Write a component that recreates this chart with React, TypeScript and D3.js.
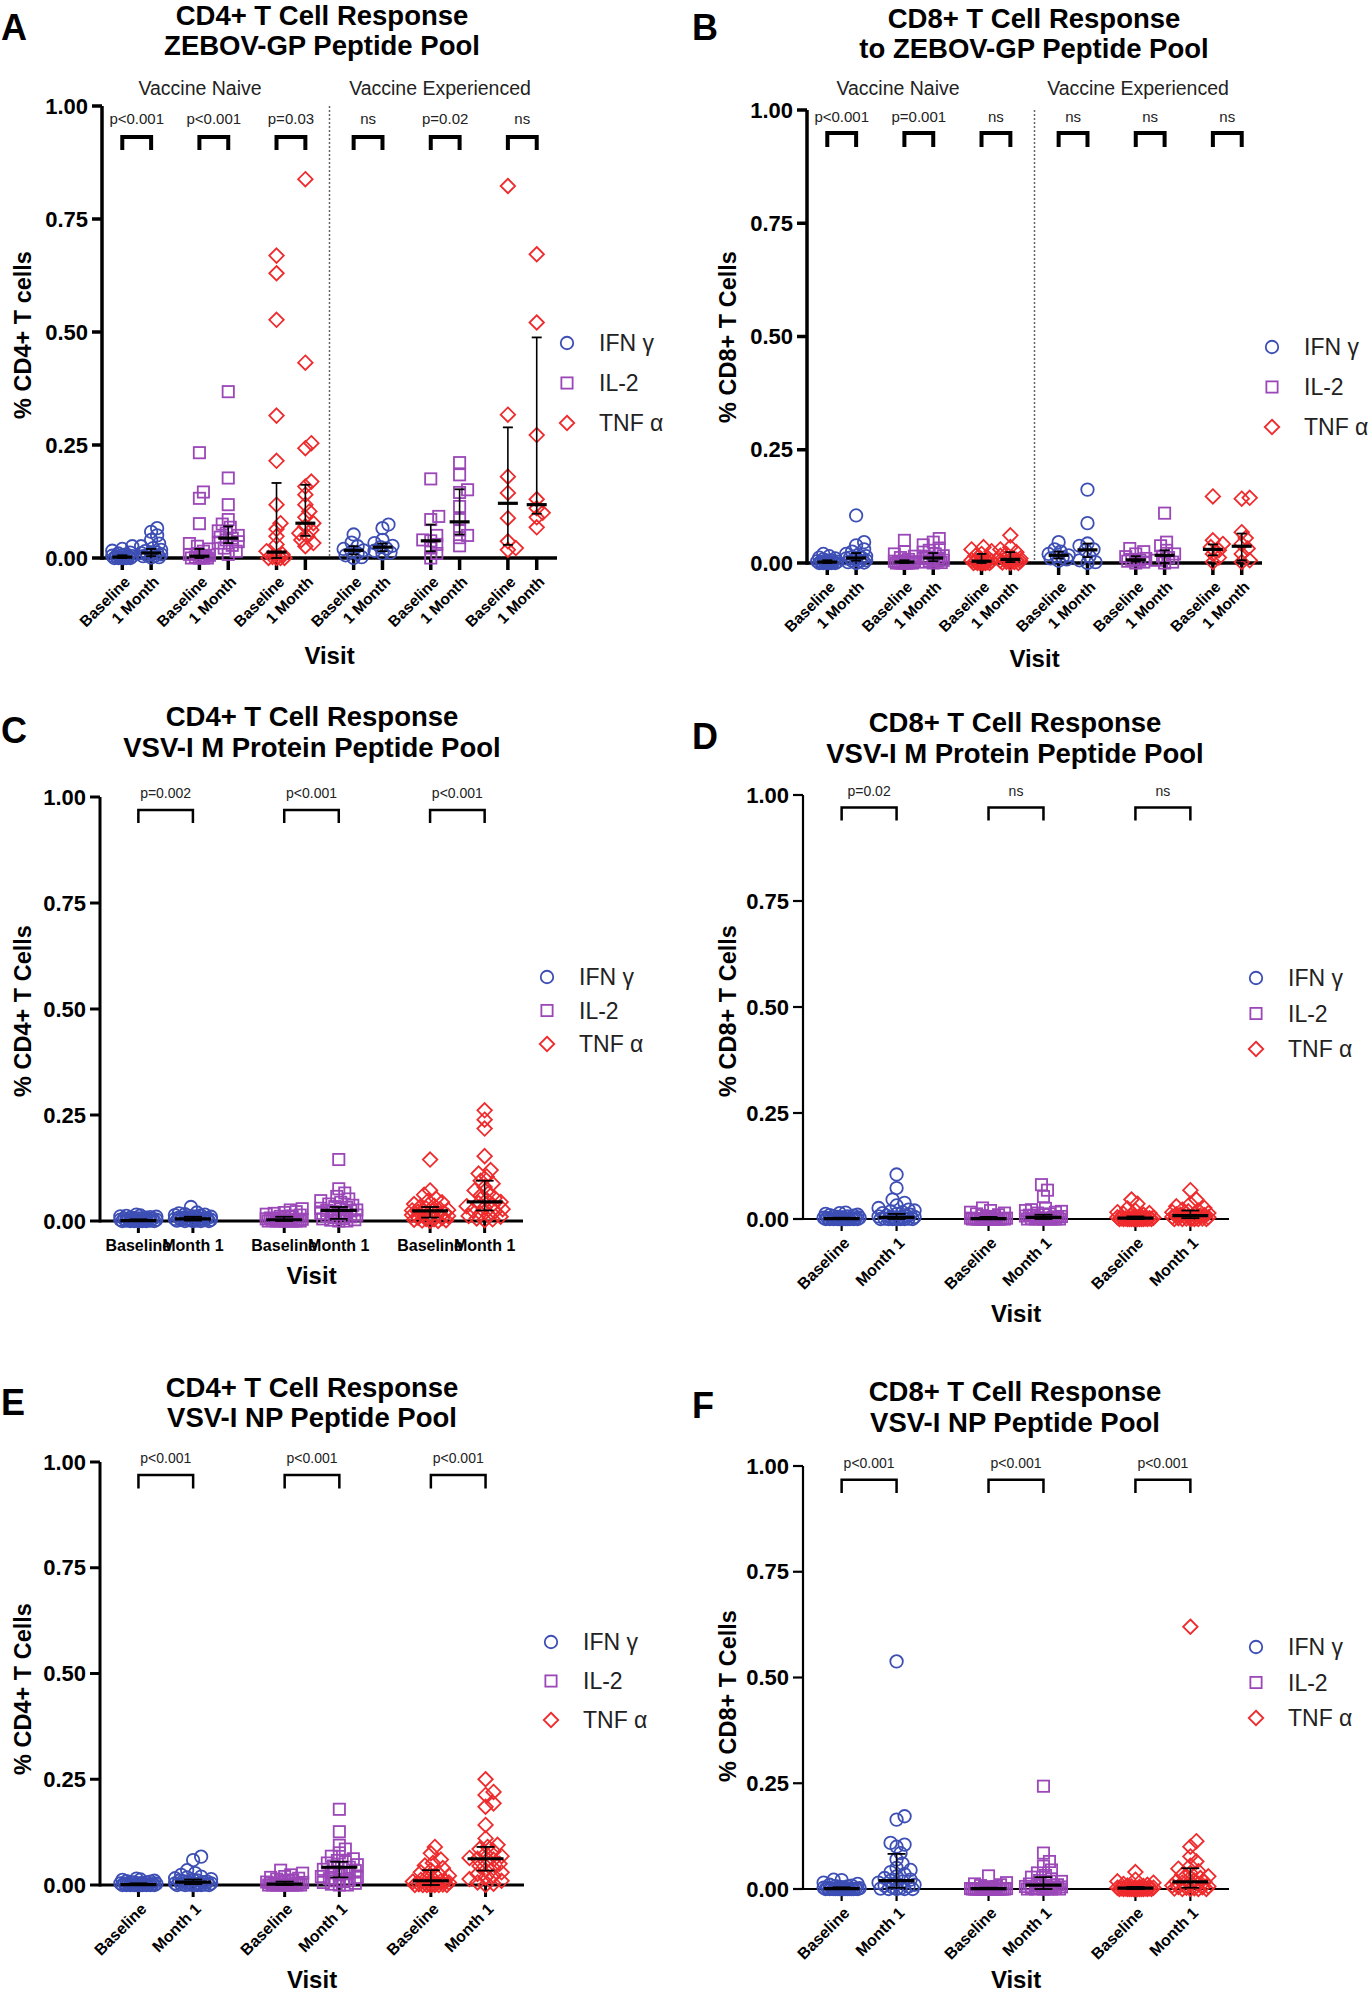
import React from "react";
import * as d3 from "d3";

const FONT = "'Liberation Sans', Arial, Helvetica, sans-serif";
const COLORS = ["#3d4fb5", "#9b47b8", "#ef2b2d"];
const LEGEND = ["IFN \u03b3", "IL-2", "TNF \u03b1"];

// ---- Panel A: CD4+, ZEBOV-GP (naive / experienced) ----
const aIfnNaiveBase = [0.026, 0.02, 0.016, 0.012, 0.01, 0.008, 0.006, 0.005, 0.004, 0.003, 0.002, 0.001, 0, 0, 0, 0, 0, 0];
const aIfnNaiveM1 = [0.066, 0.058, 0.05, 0.04, 0.032, 0.026, 0.022, 0.018, 0.015, 0.012, 0.011, 0.01, 0.008, 0.006, 0.005, 0.004, 0.002, 0.001];
const aIl2NaiveBase = [0.233, 0.146, 0.132, 0.076, 0.032, 0.026, 0.02, 0.015, 0.01, 0.008, 0.006, 0.004, 0.003, 0.002, 0, 0, 0, 0];
const aIl2NaiveM1 = [0.368, 0.177, 0.118, 0.085, 0.075, 0.068, 0.06, 0.055, 0.05, 0.046, 0.044, 0.04, 0.036, 0.033, 0.028, 0.022, 0.015, 0.008];
const aTnfNaiveBase = [0.669, 0.63, 0.527, 0.315, 0.215, 0.118, 0.077, 0.064, 0.048, 0.03, 0.015, 0.008, 0.004, 0.002, 0, 0, 0, 0];
const aTnfNaiveM1 = [0.838, 0.432, 0.254, 0.243, 0.169, 0.158, 0.14, 0.118, 0.103, 0.09, 0.077, 0.07, 0.062, 0.055, 0.048, 0.04, 0.033, 0.026];
const aIfnExpBase = [0.052, 0.034, 0.026, 0.02, 0.017, 0.014, 0.01, 0.006, 0.002, 0];
const aIfnExpM1 = [0.074, 0.066, 0.04, 0.033, 0.027, 0.024, 0.021, 0.016, 0.012, 0.01];
const aIl2ExpBase = [0.175, 0.092, 0.085, 0.05, 0.04, 0.038, 0.03, 0.022, 0.01, 0];
const aIl2ExpM1 = [0.211, 0.184, 0.151, 0.145, 0.114, 0.085, 0.062, 0.05, 0.045, 0.027];
const aTnfExpBase = [0.823, 0.317, 0.18, 0.144, 0.088, 0.037, 0.022, 0.018];
const aTnfExpM1 = [0.672, 0.521, 0.272, 0.13, 0.11, 0.1, 0.09, 0.068];
const aMedian = [0.002, 0.011, 0.004, 0.044, 0.013, 0.077, 0.017, 0.024, 0.038, 0.08, 0.121, 0.118];
const aLower = [0, 0.004, 0, 0.033, 0, 0.049, 0.008, 0.015, 0.015, 0.052, 0.029, 0.098];
const aUpper = [0.006, 0.02, 0.02, 0.07, 0.166, 0.162, 0.026, 0.032, 0.074, 0.152, 0.289, 0.488];
const aPvals = ["p<0.001", "p<0.001", "p=0.03", "ns", "p=0.02", "ns"];

// ---- Panel B: CD8+, ZEBOV-GP ----
const bIfnNaiveBase = [0.02, 0.015, 0.012, 0.01, 0.008, 0.006, 0.005, 0.004, 0.003, 0.002, 0.002, 0.001, 0, 0, 0, 0, 0, 0];
const bIfnNaiveM1 = [0.105, 0.046, 0.039, 0.03, 0.025, 0.02, 0.018, 0.015, 0.012, 0.011, 0.01, 0.008, 0.006, 0.005, 0.004, 0.002, 0.001, 0];
const bIl2NaiveBase = [0.05, 0.025, 0.02, 0.015, 0.012, 0.008, 0.005, 0.004, 0.003, 0.002, 0.001, 0, 0, 0, 0, 0, 0, 0];
const bIl2NaiveM1 = [0.054, 0.046, 0.04, 0.033, 0.028, 0.024, 0.02, 0.016, 0.013, 0.011, 0.01, 0.008, 0.006, 0.005, 0.004, 0.002, 0.001, 0];
const bTnfNaiveBase = [0.035, 0.03, 0.026, 0.02, 0.016, 0.012, 0.008, 0.006, 0.004, 0.003, 0.002, 0.001, 0, 0, 0, 0, 0, 0];
const bTnfNaiveM1 = [0.061, 0.035, 0.03, 0.024, 0.02, 0.016, 0.012, 0.01, 0.008, 0.007, 0.006, 0.005, 0.004, 0.003, 0.002, 0.001, 0, 0];
const bIfnExpBase = [0.046, 0.03, 0.025, 0.02, 0.017, 0.015, 0.012, 0.01, 0.008, 0.005];
const bIfnExpM1 = [0.162, 0.088, 0.043, 0.038, 0.03, 0.028, 0.015, 0.006, 0.002, 0];
const bIl2ExpBase = [0.032, 0.025, 0.02, 0.014, 0.01, 0.008, 0.006, 0.004, 0.002, 0];
const bIl2ExpM1 = [0.11, 0.046, 0.038, 0.028, 0.02, 0.015, 0.012, 0.006, 0.002, 0];
const bTnfExpBase = [0.147, 0.05, 0.042, 0.035, 0.028, 0.02, 0.012, 0.002];
const bTnfExpM1 = [0.144, 0.142, 0.068, 0.055, 0.042, 0.032, 0.02, 0.006, 0.002];
const bMedian = [0.002, 0.011, 0.002, 0.011, 0.004, 0.008, 0.017, 0.029, 0.007, 0.017, 0.03, 0.037];
const bLower = [0, 0.005, 0, 0.004, 0, 0.002, 0.01, 0.013, 0.003, 0, 0.017, 0.006];
const bUpper = [0.006, 0.022, 0.006, 0.022, 0.02, 0.024, 0.025, 0.043, 0.015, 0.028, 0.041, 0.065];
const bPvals = ["p<0.001", "p=0.001", "ns", "ns", "ns", "ns"];

// ---- Panel C: CD4+, VSV-I M protein ----
const cIfnBase = [0.015, 0.013, 0.012, 0.011, 0.01, 0.009, 0.008, 0.008, 0.007, 0.006, 0.006, 0.005, 0.005, 0.004, 0.004, 0.003, 0.003, 0.002, 0.002, 0.002, 0.001, 0.001, 0.001, 0, 0, 0, 0, 0, 0, 0];
const cIfnM1 = [0.033, 0.02, 0.018, 0.016, 0.015, 0.014, 0.013, 0.012, 0.011, 0.01, 0.009, 0.008, 0.008, 0.007, 0.006, 0.006, 0.005, 0.005, 0.004, 0.004, 0.003, 0.003, 0.002, 0.002, 0.001, 0.001, 0, 0, 0, 0];
const cIl2Base = [0.029, 0.026, 0.022, 0.02, 0.018, 0.016, 0.014, 0.012, 0.011, 0.01, 0.008, 0.007, 0.006, 0.005, 0.004, 0.004, 0.003, 0.003, 0.002, 0.002, 0.001, 0.001, 0, 0, 0, 0, 0, 0, 0, 0];
const cIl2M1 = [0.145, 0.076, 0.066, 0.058, 0.052, 0.048, 0.044, 0.04, 0.037, 0.034, 0.032, 0.03, 0.028, 0.026, 0.025, 0.024, 0.022, 0.02, 0.018, 0.016, 0.014, 0.012, 0.01, 0.008, 0.006, 0.005, 0.003, 0.002, 0, 0];
const cTnfBase = [0.145, 0.072, 0.062, 0.053, 0.048, 0.044, 0.04, 0.036, 0.033, 0.03, 0.028, 0.026, 0.025, 0.024, 0.022, 0.02, 0.018, 0.016, 0.014, 0.012, 0.01, 0.008, 0.007, 0.005, 0.004, 0.003, 0.002, 0.001, 0, 0];
const cTnfM1 = [0.261, 0.239, 0.218, 0.153, 0.12, 0.112, 0.105, 0.095, 0.088, 0.08, 0.072, 0.066, 0.06, 0.054, 0.05, 0.045, 0.042, 0.038, 0.035, 0.032, 0.028, 0.025, 0.022, 0.018, 0.015, 0.012, 0.01, 0.006, 0.004, 0.002];
const cMedian = [0.001, 0.005, 0.003, 0.025, 0.024, 0.045];
const cLower = [0, 0.001, 0, 0.005, 0.008, 0.025];
const cUpper = [0.004, 0.01, 0.01, 0.033, 0.033, 0.095];
const cPvals = ["p=0.002", "p<0.001", "p<0.001"];

// ---- Panel D: CD8+, VSV-I M protein ----
const dIfnBase = [0.015, 0.014, 0.012, 0.01, 0.009, 0.008, 0.007, 0.006, 0.005, 0.004, 0.004, 0.003, 0.003, 0.002, 0.002, 0.001, 0.001, 0.001, 0, 0, 0, 0, 0, 0, 0, 0, 0, 0, 0, 0];
const dIfnM1 = [0.105, 0.073, 0.046, 0.038, 0.032, 0.026, 0.022, 0.02, 0.018, 0.016, 0.014, 0.012, 0.01, 0.008, 0.007, 0.006, 0.005, 0.004, 0.003, 0.002, 0.002, 0.001, 0.001, 0, 0, 0, 0, 0, 0, 0];
const dIl2Base = [0.026, 0.02, 0.016, 0.014, 0.012, 0.01, 0.008, 0.006, 0.005, 0.004, 0.003, 0.002, 0.002, 0.001, 0.001, 0, 0, 0, 0, 0, 0, 0, 0, 0, 0, 0, 0, 0, 0, 0];
const dIl2M1 = [0.081, 0.068, 0.053, 0.025, 0.022, 0.02, 0.018, 0.016, 0.014, 0.012, 0.01, 0.009, 0.008, 0.007, 0.006, 0.005, 0.004, 0.003, 0.002, 0.002, 0.001, 0.001, 0, 0, 0, 0, 0, 0, 0, 0];
const dTnfBase = [0.046, 0.036, 0.025, 0.02, 0.016, 0.014, 0.012, 0.01, 0.008, 0.006, 0.005, 0.004, 0.003, 0.002, 0.002, 0.001, 0.001, 0, 0, 0, 0, 0, 0, 0, 0, 0, 0, 0, 0, 0];
const dTnfM1 = [0.068, 0.046, 0.036, 0.03, 0.026, 0.022, 0.02, 0.018, 0.016, 0.014, 0.012, 0.011, 0.01, 0.009, 0.008, 0.007, 0.006, 0.005, 0.004, 0.003, 0.002, 0.002, 0.001, 0.001, 0, 0, 0, 0, 0, 0];
const dMedian = [0.001, 0.004, 0.001, 0.004, 0.002, 0.008];
const dLower = [0, 0, 0, 0, 0, 0.002];
const dUpper = [0.003, 0.012, 0.005, 0.01, 0.006, 0.02];
const dPvals = ["p=0.02", "ns", "ns"];

// ---- Panel E: CD4+, VSV-I NP ----
const eIfnBase = [0.015, 0.013, 0.012, 0.01, 0.009, 0.008, 0.007, 0.006, 0.006, 0.005, 0.004, 0.004, 0.003, 0.003, 0.002, 0.002, 0.001, 0.001, 0.001, 0, 0, 0, 0, 0, 0, 0, 0, 0, 0, 0];
const eIfnM1 = [0.067, 0.059, 0.035, 0.028, 0.024, 0.02, 0.018, 0.016, 0.014, 0.012, 0.011, 0.01, 0.009, 0.008, 0.007, 0.006, 0.005, 0.004, 0.004, 0.003, 0.002, 0.002, 0.001, 0.001, 0, 0, 0, 0, 0, 0];
const eIl2Base = [0.035, 0.028, 0.024, 0.02, 0.018, 0.016, 0.014, 0.012, 0.01, 0.009, 0.008, 0.007, 0.006, 0.005, 0.004, 0.004, 0.003, 0.002, 0.002, 0.001, 0.001, 0, 0, 0, 0, 0, 0, 0, 0, 0];
const eIl2M1 = [0.179, 0.126, 0.094, 0.085, 0.076, 0.068, 0.062, 0.058, 0.055, 0.052, 0.048, 0.045, 0.042, 0.04, 0.037, 0.034, 0.03, 0.027, 0.024, 0.02, 0.018, 0.015, 0.012, 0.01, 0.008, 0.006, 0.004, 0.002, 0, 0];
const eTnfBase = [0.09, 0.075, 0.06, 0.052, 0.046, 0.04, 0.035, 0.03, 0.026, 0.022, 0.018, 0.015, 0.012, 0.01, 0.009, 0.008, 0.006, 0.005, 0.004, 0.003, 0.002, 0.002, 0.001, 0, 0, 0, 0, 0, 0, 0];
const eTnfM1 = [0.25, 0.22, 0.213, 0.193, 0.185, 0.142, 0.11, 0.095, 0.09, 0.085, 0.08, 0.074, 0.068, 0.064, 0.062, 0.06, 0.055, 0.05, 0.045, 0.04, 0.035, 0.03, 0.026, 0.022, 0.018, 0.014, 0.01, 0.006, 0.003, 0];
const eMedian = [0.001, 0.007, 0.002, 0.042, 0.01, 0.062];
const eLower = [0, 0.002, 0, 0.018, 0, 0.034];
const eUpper = [0.004, 0.013, 0.008, 0.055, 0.035, 0.09];
const ePvals = ["p<0.001", "p<0.001", "p<0.001"];

// ---- Panel F: CD8+, VSV-I NP ----
const fIfnBase = [0.022, 0.021, 0.015, 0.012, 0.01, 0.008, 0.007, 0.006, 0.005, 0.004, 0.003, 0.003, 0.002, 0.002, 0.001, 0.001, 0, 0, 0, 0, 0, 0, 0, 0, 0, 0, 0, 0, 0, 0];
const fIfnM1 = [0.538, 0.172, 0.164, 0.109, 0.105, 0.1, 0.085, 0.07, 0.06, 0.05, 0.045, 0.04, 0.035, 0.03, 0.026, 0.022, 0.02, 0.018, 0.015, 0.012, 0.01, 0.008, 0.006, 0.004, 0.002, 0.001, 0, 0, 0, 0];
const fIl2Base = [0.031, 0.015, 0.012, 0.01, 0.008, 0.006, 0.005, 0.004, 0.003, 0.002, 0.002, 0.001, 0.001, 0, 0, 0, 0, 0, 0, 0, 0, 0, 0, 0, 0, 0, 0, 0, 0, 0];
const fIl2M1 = [0.243, 0.085, 0.065, 0.054, 0.045, 0.038, 0.032, 0.028, 0.024, 0.02, 0.018, 0.015, 0.012, 0.01, 0.009, 0.008, 0.007, 0.006, 0.005, 0.004, 0.003, 0.002, 0.001, 0.001, 0, 0, 0, 0, 0, 0];
const fTnfBase = [0.04, 0.022, 0.018, 0.015, 0.012, 0.01, 0.008, 0.007, 0.006, 0.005, 0.004, 0.003, 0.003, 0.002, 0.002, 0.001, 0.001, 0, 0, 0, 0, 0, 0, 0, 0, 0, 0, 0, 0, 0];
const fTnfM1 = [0.62, 0.113, 0.1, 0.077, 0.065, 0.055, 0.048, 0.042, 0.038, 0.034, 0.03, 0.026, 0.022, 0.02, 0.018, 0.017, 0.015, 0.012, 0.01, 0.008, 0.006, 0.005, 0.004, 0.003, 0.002, 0.001, 0, 0, 0, 0];
const fMedian = [0.001, 0.02, 0.001, 0.009, 0.002, 0.017];
const fLower = [0, 0.003, 0, 0, 0, 0.003];
const fUpper = [0.004, 0.083, 0.003, 0.028, 0.005, 0.049];
const fPvals = ["p<0.001", "p<0.001", "p<0.001"];

const yTicks = [0, 0.25, 0.5, 0.75, 1];
const zebovVisits = ["Baseline", "1 Month"];
const vsvVisits = ["Baseline", "Month 1"];
const sections = ["Vaccine Naive", "Vaccine Experienced"];

const panels = [
  {
    letter: "A", letterX: 1, letterY: 40,
    title: ["CD4+ T Cell Response", "ZEBOV-GP Peptide Pool"], titleX: 322, titleY: [25, 55],
    yTitle: "% CD4+ T cells", yTitleX: 23, yTitleY: 335,
    x0: 102, x1: 557, yTop: 106, yBottom: 558,
    groups: [[aIfnNaiveBase, aIfnNaiveM1], [aIl2NaiveBase, aIl2NaiveM1], [aTnfNaiveBase, aTnfNaiveM1],
      [aIfnExpBase, aIfnExpM1], [aIl2ExpBase, aIl2ExpM1], [aTnfExpBase, aTnfExpM1]],
    median: aMedian, lower: aLower, upper: aUpper, pvals: aPvals,
    pDy: 18, brTop: 31, brBot: 44, brW: 4, pFont: 15, axisW: 3.5,
    visits: zebovVisits, tickFont: 15.5, rotate: true, visitY: 664,
    legX: 567, legY: 343, legGap: 40, medW: 20, capW: 10, spread: 11,
    sections: true, sectionX: [200, 440], sectionY: 95,
  },
  {
    letter: "B", letterX: 692, letterY: 40,
    title: ["CD8+ T Cell Response", "to ZEBOV-GP Peptide Pool"], titleX: 1034, titleY: [28, 58],
    yTitle: "% CD8+ T Cells", yTitleX: 728, yTitleY: 337,
    x0: 807, x1: 1262, yTop: 110, yBottom: 563,
    groups: [[bIfnNaiveBase, bIfnNaiveM1], [bIl2NaiveBase, bIl2NaiveM1], [bTnfNaiveBase, bTnfNaiveM1],
      [bIfnExpBase, bIfnExpM1], [bIl2ExpBase, bIl2ExpM1], [bTnfExpBase, bTnfExpM1]],
    median: bMedian, lower: bLower, upper: bUpper, pvals: bPvals,
    pDy: 12, brTop: 23, brBot: 37, brW: 4, pFont: 15, axisW: 3.5,
    visits: zebovVisits, tickFont: 15.5, rotate: true, visitY: 667,
    legX: 1272, legY: 347, legGap: 40, medW: 20, capW: 10, spread: 11,
    sections: true, sectionX: [898, 1138], sectionY: 95,
  },
  {
    letter: "C", letterX: 1, letterY: 743,
    title: ["CD4+ T Cell Response", "VSV-I M Protein Peptide Pool"], titleX: 312, titleY: [726, 757],
    yTitle: "% CD4+ T Cells", yTitleX: 23, yTitleY: 1011,
    x0: 100, x1: 523, yTop: 797, yBottom: 1221,
    groups: [[cIfnBase, cIfnM1], [cIl2Base, cIl2M1], [cTnfBase, cTnfM1]],
    median: cMedian, lower: cLower, upper: cUpper, pvals: cPvals,
    pDy: 1, brTop: 13, brBot: 26, brW: 2.5, pFont: 14, axisW: 3,
    visits: vsvVisits, tickFont: 16, rotate: false, visitY: 1284,
    legX: 547, legY: 977, legGap: 33.5, medW: 36, capW: 18, spread: 18,
    sections: false, sectionX: [0, 0], sectionY: 0,
  },
  {
    letter: "D", letterX: 692, letterY: 749,
    title: ["CD8+ T Cell Response", "VSV-I M Protein Peptide Pool"], titleX: 1015, titleY: [732, 763],
    yTitle: "% CD8+ T Cells", yTitleX: 728, yTitleY: 1011,
    x0: 803, x1: 1229, yTop: 795, yBottom: 1219,
    groups: [[dIfnBase, dIfnM1], [dIl2Base, dIl2M1], [dTnfBase, dTnfM1]],
    median: dMedian, lower: dLower, upper: dUpper, pvals: dPvals,
    pDy: 1, brTop: 12.5, brBot: 25.5, brW: 2.5, pFont: 14, axisW: 2.2,
    visits: vsvVisits, tickFont: 16, rotate: true, visitY: 1322,
    legX: 1256, legY: 978, legGap: 35.5, medW: 36, capW: 18, spread: 18,
    sections: false, sectionX: [0, 0], sectionY: 0,
  },
  {
    letter: "E", letterX: 1, letterY: 1415,
    title: ["CD4+ T Cell Response", "VSV-I NP Peptide Pool"], titleX: 312, titleY: [1397, 1427],
    yTitle: "% CD4+ T Cells", yTitleX: 23, yTitleY: 1689,
    x0: 100, x1: 524, yTop: 1462, yBottom: 1885,
    groups: [[eIfnBase, eIfnM1], [eIl2Base, eIl2M1], [eTnfBase, eTnfM1]],
    median: eMedian, lower: eLower, upper: eUpper, pvals: ePvals,
    pDy: 1, brTop: 13, brBot: 26.5, brW: 2.5, pFont: 14, axisW: 3,
    visits: vsvVisits, tickFont: 16, rotate: true, visitY: 1988,
    legX: 551, legY: 1642, legGap: 39, medW: 36, capW: 18, spread: 18,
    sections: false, sectionX: [0, 0], sectionY: 0,
  },
  {
    letter: "F", letterX: 692, letterY: 1418,
    title: ["CD8+ T Cell Response", "VSV-I NP Peptide Pool"], titleX: 1015, titleY: [1401, 1432],
    yTitle: "% CD8+ T Cells", yTitleX: 728, yTitleY: 1696,
    x0: 803, x1: 1229, yTop: 1466, yBottom: 1889,
    groups: [[fIfnBase, fIfnM1], [fIl2Base, fIl2M1], [fTnfBase, fTnfM1]],
    median: fMedian, lower: fLower, upper: fUpper, pvals: fPvals,
    pDy: 2, brTop: 13.7, brBot: 27, brW: 2.5, pFont: 14, axisW: 2.2,
    visits: vsvVisits, tickFont: 16, rotate: true, visitY: 1988,
    legX: 1256, legY: 1647, legGap: 35.5, medW: 36, capW: 18, spread: 18,
    sections: false, sectionX: [0, 0], sectionY: 0,
  },
];

type PanelSpec = (typeof panels)[number];

// spread overlapping points sideways, like a scatter dot plot
function swarm(values: number[], y: (v: number) => number, spread: number) {
  const minDist = 7;
  const step = 2;
  const pts = values.map((v) => ({ py: y(v), dx: 0 })).sort((a, b) => b.py - a.py);
  const placed: { py: number; dx: number }[] = [];
  const nSteps = Math.floor(spread / step);
  for (const p of pts) {
    let best = 0;
    let bestScore = -Infinity;
    for (let k = 0; k <= nSteps * 2; k++) {
      const off = k === 0 ? 0 : (k % 2 === 1 ? 1 : -1) * Math.ceil(k / 2) * step;
      let md = Infinity;
      for (const q of placed) {
        const d = Math.hypot(q.dx - off, q.py - p.py);
        if (d < md) md = d;
      }
      if (md >= minDist) { best = off; break; }
      if (md > bestScore) { bestScore = md; best = off; }
    }
    p.dx = best;
    placed.push(p);
  }
  return placed;
}

function Marker({ shape, x, y, color }: { shape: number; x: number; y: number; color: string }) {
  const s = 12.5;
  if (shape === 0) return <circle cx={x} cy={y} r={s / 2} fill="none" stroke={color} strokeWidth={1.8} />;
  if (shape === 1) return <rect x={x - s * 0.45} y={y - s * 0.45} width={s * 0.9} height={s * 0.9} fill="none" stroke={color} strokeWidth={1.8} />;
  const h = s * 0.58;
  return <path d={`M${x},${y - h}L${x + h},${y}L${x},${y + h}L${x - h},${y}Z`} fill="none" stroke={color} strokeWidth={1.8} />;
}

function Panel({ p }: { p: PanelSpec }) {
  const y = d3.scaleLinear().domain([0, 1]).range([p.yBottom, p.yTop]);
  const gx = d3.scalePoint<number>().domain(d3.range(p.groups.length)).range([p.x0, p.x1]).padding(0.45);
  const off = gx.step() * 0.187;
  const colX = (g: number, v: number) => (gx(g) as number) + (v === 0 ? -off : off);
  const cyto = (g: number) => g % 3;
  const divider = p.sections ? ((gx(2) as number) + (gx(3) as number)) / 2 : 0;

  const cols: { g: number; v: number; x: number }[] = [];
  p.groups.forEach((pair, g) => pair.forEach((_, v) => cols.push({ g, v, x: colX(g, v) })));

  return (
    <g fontFamily={FONT}>
      <text x={p.letterX} y={p.letterY} fontSize={36} fontWeight="bold">{p.letter}</text>
      {p.title.map((t, i) => (
        <text key={i} x={p.titleX} y={p.titleY[i]} fontSize={27.5} fontWeight="bold" textAnchor="middle">{t}</text>
      ))}
      <text transform={`translate(${p.yTitleX},${p.yTitleY}) rotate(-90)`} fontSize={23.5} fontWeight="bold"
        textAnchor="middle" dy="0.35em">{p.yTitle}</text>
      <text x={(p.x0 + p.x1) / 2} y={p.visitY} fontSize={24} fontWeight="bold" textAnchor="middle">Visit</text>

      {p.sections && sections.map((s, i) => (
        <text key={s} x={p.sectionX[i]} y={p.sectionY} fontSize={19.5} textAnchor="middle" fill="#222">{s}</text>
      ))}
      {p.sections && (
        <line x1={divider} x2={divider} y1={p.yTop} y2={p.yBottom} stroke="#666" strokeWidth={1.5} strokeDasharray="2,2" />
      )}

      {/* y axis */}
      <line x1={p.x0} x2={p.x0} y1={p.yTop} y2={p.yBottom + p.axisW / 2} stroke="#000" strokeWidth={p.axisW} />
      {yTicks.map((t) => (
        <g key={t}>
          <line x1={p.x0 - 10} x2={p.x0} y1={y(t)} y2={y(t)} stroke="#000" strokeWidth={p.axisW} />
          <text x={p.x0 - 14} y={y(t)} dy="0.35em" fontSize={22} fontWeight="bold" textAnchor="end">{d3.format(".2f")(t)}</text>
        </g>
      ))}
      {/* x axis */}
      <line x1={p.x0} x2={p.x1} y1={p.yBottom} y2={p.yBottom} stroke="#000" strokeWidth={p.axisW} />
      {cols.map((c) => (
        <g key={`t${c.g}-${c.v}`}>
          <line x1={c.x} x2={c.x} y1={p.yBottom} y2={p.yBottom + 12} stroke="#000" strokeWidth={p.axisW} />
          {p.rotate ? (
            <text transform={`translate(${c.x + 5},${p.yBottom + 21}) rotate(-45)`} fontSize={p.tickFont}
              fontWeight="bold" textAnchor="end" dy="0.35em">{p.visits[c.v]}</text>
          ) : (
            <text x={c.x} y={p.yBottom + 30} fontSize={p.tickFont} fontWeight="bold" textAnchor="middle">{p.visits[c.v]}</text>
          )}
        </g>
      ))}

      {/* points */}
      {cols.map((c) => {
        const pts = swarm(p.groups[c.g][c.v], y, p.spread);
        return pts.map((pt, i) => (
          <Marker key={`p${c.g}-${c.v}-${i}`} shape={cyto(c.g)} x={c.x + pt.dx} y={pt.py} color={COLORS[cyto(c.g)]} />
        ));
      })}

      {/* median with interquartile range */}
      {cols.map((c) => {
        const k = c.g * 2 + c.v;
        const ym = y(p.median[k]);
        const yl = y(p.lower[k]);
        const yu = y(p.upper[k]);
        return (
          <g key={`e${k}`} stroke="#000">
            <line x1={c.x} x2={c.x} y1={yl} y2={yu} strokeWidth={1.6} />
            <line x1={c.x - p.capW / 2} x2={c.x + p.capW / 2} y1={yl} y2={yl} strokeWidth={1.8} />
            <line x1={c.x - p.capW / 2} x2={c.x + p.capW / 2} y1={yu} y2={yu} strokeWidth={1.8} />
            <line x1={c.x - p.medW / 2} x2={c.x + p.medW / 2} y1={ym} y2={ym} strokeWidth={3.2} />
          </g>
        );
      })}

      {/* significance brackets */}
      {p.pvals.map((pv, g) => {
        const xa = colX(g, 0);
        const xb = colX(g, 1);
        const top = p.yTop + p.brTop;
        const bot = p.yTop + p.brBot;
        return (
          <g key={`b${g}`}>
            <text x={(xa + xb) / 2} y={p.yTop + p.pDy} fontSize={p.pFont} textAnchor="middle" fill="#222">{pv}</text>
            <path d={`M${xa},${bot}V${top}H${xb}V${bot}`} fill="none" stroke="#000" strokeWidth={p.brW} />
          </g>
        );
      })}

      {/* legend */}
      {LEGEND.map((l, i) => (
        <g key={l}>
          <Marker shape={i} x={p.legX} y={p.legY + i * p.legGap} color={COLORS[i]} />
          <text x={p.legX + 32} y={p.legY + i * p.legGap} dy="0.35em" fontSize={23} fill="#222">{l}</text>
        </g>
      ))}
    </g>
  );
}

export default function App() {
  return (
    <div>
      <style>{"body{margin:0;background:#fff}"}</style>
      <svg width={1370} height={1994} style={{ display: "block", background: "#fff" }}>
        {panels.map((p) => (
          <Panel key={p.letter} p={p} />
        ))}
      </svg>
    </div>
  );
}
